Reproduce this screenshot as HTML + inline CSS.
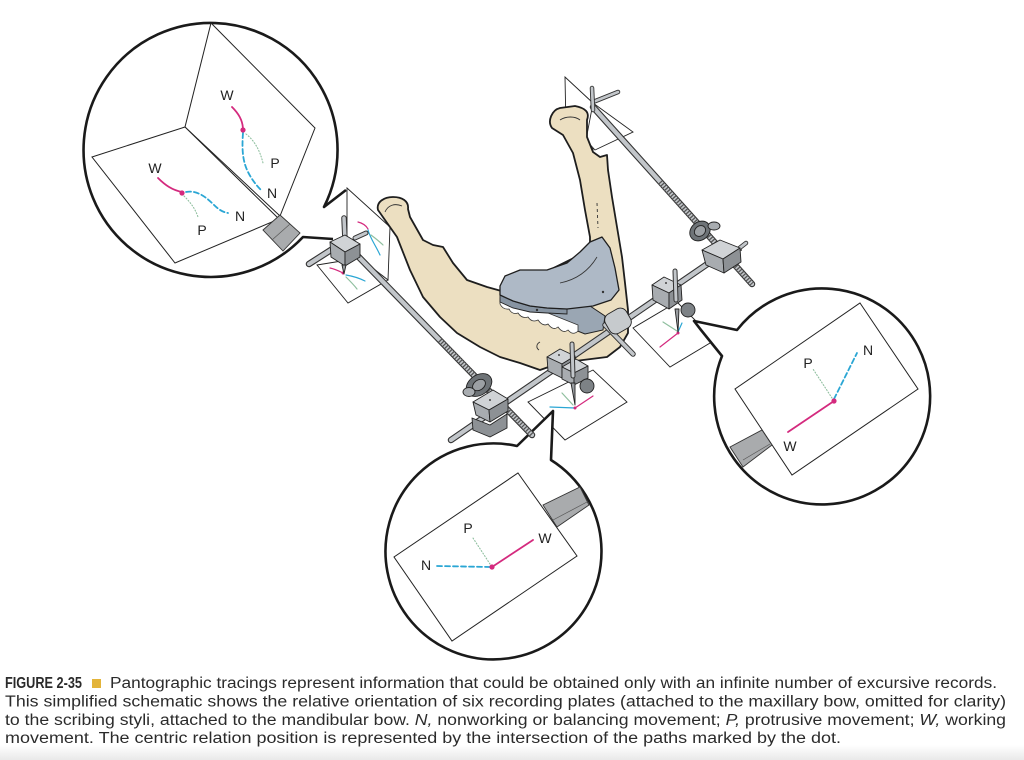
<!DOCTYPE html>
<html><head><meta charset="utf-8"><style>
html,body{margin:0;padding:0;background:#fff;}
svg{display:block;}
</style></head><body>
<svg width="1024" height="760" viewBox="0 0 1024 760" xmlns="http://www.w3.org/2000/svg">
<defs>
<linearGradient id="bg" x1="0" y1="0" x2="0" y2="1">
<stop offset="0" stop-color="#ffffff"/><stop offset="1" stop-color="#e9e9e9"/>
</linearGradient>
</defs>
<rect width="1024" height="760" fill="#fff"/>
<rect x="0" y="745" width="1024" height="15" fill="url(#bg)"/>

<!-- ===== device plates (behind) ===== -->
<g fill="#fff" stroke="#222" stroke-width="0.9">
<polygon points="347,188 390,227 388,280 347,255"/>
<polygon points="317,265 348,303 388,280 360,258"/>
<polygon points="565,77 593,103 593,150 566,128"/>
<polygon points="593,103 633,132 595,150 586,140"/>
<polygon points="633,328 670,367 715,340 677,302"/>
<polygon points="528,402 565,440 627,402 593,370"/>
</g>
<g fill="none" stroke-width="1.2" stroke-linecap="round">
<path d="M358,222 C362,223 366,225 368,229" stroke="#d42a7e"/>
<path d="M368,230 C370,238 376,246 380,255" stroke="#2aa6d4"/>
<path d="M371,235 C375,238 379,241 383,245" stroke="#8fbf9f"/>
<path d="M330,268 C335,269 339,271 343,273" stroke="#d42a7e"/>
<path d="M346,275 C352,276 359,278 365,281" stroke="#2aa6d4"/>
<path d="M346,277 C350,281 354,285 357,289" stroke="#8fbf9f"/>
<path d="M663,322 L677,331" stroke="#8fbf9f"/>
<path d="M682,323 L678,332" stroke="#2aa6d4"/>
<path d="M660,347 L678,333" stroke="#d42a7e"/>
<path d="M550,407 L575,408" stroke="#2aa6d4"/>
<path d="M575,408 L593,396" stroke="#d42a7e"/>
<path d="M562,393 L573,405" stroke="#8fbf9f"/>
</g>
<circle cx="343" cy="273" r="1.5" fill="#d42a7e"/>
<circle cx="678" cy="333" r="1.5" fill="#d42a7e"/>
<circle cx="575" cy="408" r="1.5" fill="#d42a7e"/>

<!-- ===== Bubbles ===== -->
<path d="M346,190 L324,207 A127 127 0 1 0 303,237 L333,239 Z" fill="#fff" stroke="none"/>
<path d="M346,190 L324,207 A127 127 0 1 0 303,237 L333,239" fill="none" stroke="#1a1a1a" stroke-width="2.6" stroke-linejoin="round"/>
<g fill="#fff" stroke="#222" stroke-width="1">
<polygon points="211,23 315,128 280,216 185,127"/>
<polygon points="92,157 185,127 279,219 175,263"/>
</g>
<polygon points="263,230 280,215 300,233 283,251" fill="#a9abad" stroke="#333" stroke-width="0.9"/>
<line x1="272" y1="240" x2="290" y2="224" stroke="#555" stroke-width="0.7"/>
<g fill="none" stroke-width="1.8" stroke-linecap="round">
<path d="M232,107 C238,113 243,120 243,130" stroke="#d42a7e"/>
<path d="M243,133 C242,147 242,160 248,172 C252,180 257,186 261,190" stroke="#2aa6d4" stroke-dasharray="5,3"/>
<path d="M246,134 C255,141 260,151 263,163" stroke="#8fbf9f" stroke-width="1.1" stroke-dasharray="1,2"/>
<path d="M158,178 C165,185 172,190 182,192" stroke="#d42a7e"/>
<path d="M186,192 C196,190 205,196 213,204 C218,209 222,212 228,213" stroke="#2aa6d4" stroke-dasharray="5,3"/>
<path d="M184,196 C190,202 195,208 198,217" stroke="#8fbf9f" stroke-width="1.1" stroke-dasharray="1,2"/>
</g>
<circle cx="243" cy="130" r="2.6" fill="#d42a7e"/>
<circle cx="182" cy="193" r="2.6" fill="#d42a7e"/>
<g font-family="Liberation Sans, Arial, sans-serif" font-size="14" fill="#222" text-anchor="middle">
<text x="227" y="100">W</text>
<text x="275" y="168">P</text>
<text x="272" y="198">N</text>
<text x="155" y="173">W</text>
<text x="240" y="221">N</text>
<text x="202" y="235">P</text>
</g>

<path d="M694,321 L737,330 A108 108 0 1 1 722,356 L701,330 Z" fill="#fff" stroke="#1a1a1a" stroke-width="2.6" stroke-linejoin="round"/>
<polygon points="860,303 918,389 792,475 735,389" fill="#fff" stroke="#222" stroke-width="1"/>
<polygon points="730,447 762,430 772,445 743,467" fill="#a9abad" stroke="#333" stroke-width="0.9"/>
<line x1="743" y1="460" x2="770" y2="444" stroke="#555" stroke-width="0.7"/>
<g fill="none" stroke-width="1.8" stroke-linecap="round">
<line x1="834" y1="401" x2="788" y2="432" stroke="#d42a7e"/>
<line x1="834" y1="399" x2="857" y2="353" stroke="#2aa6d4" stroke-dasharray="5,3"/>
<line x1="832" y1="398" x2="813" y2="369" stroke="#8fbf9f" stroke-width="1.1" stroke-dasharray="1,2"/>
</g>
<circle cx="834" cy="401" r="2.6" fill="#d42a7e"/>
<g font-family="Liberation Sans, Arial, sans-serif" font-size="14" fill="#222" text-anchor="middle">
<text x="808" y="368">P</text>
<text x="868" y="355">N</text>
<text x="790" y="451">W</text>
</g>

<path d="M553,411 L551,460 A108 108 0 1 1 517,446 Z" fill="#fff" stroke="#1a1a1a" stroke-width="2.6" stroke-linejoin="round"/>
<polygon points="518,473 577,556 452,641 394,557" fill="#fff" stroke="#222" stroke-width="1"/>
<polygon points="543,505 580,487 589,505 557,527" fill="#a9abad" stroke="#333" stroke-width="0.9"/>
<line x1="553" y1="520" x2="587" y2="502" stroke="#555" stroke-width="0.7"/>
<g fill="none" stroke-width="1.8" stroke-linecap="round">
<line x1="492" y1="567" x2="533" y2="540" stroke="#d42a7e"/>
<line x1="490" y1="567" x2="437" y2="566" stroke="#2aa6d4" stroke-dasharray="5,3"/>
<line x1="490" y1="564" x2="473" y2="538" stroke="#8fbf9f" stroke-width="1.1" stroke-dasharray="1,2"/>
</g>
<circle cx="492" cy="567" r="2.6" fill="#d42a7e"/>
<g font-family="Liberation Sans, Arial, sans-serif" font-size="14" fill="#222" text-anchor="middle">
<text x="468" y="533">P</text>
<text x="545" y="543">W</text>
<text x="426" y="570">N</text>
</g>

<!-- ===== Mandible ===== -->
<path d="M378,210 C376,202 384,197 393,197 C402,197 409,201 408,209 L410,217 L423,240 L433,245 L443,247 L453,263 L467,280 L487,287 L505,292 L590,250 L590,237 L585,210 L580,180 L573,153 L563,135 L552,128 C547,121 552,110 560,108 L575,106 C585,108 590,112 587,120 L587,137 L593,152 L600,157 L607,155 L608,170 L612,197 L617,227 L622,257 L625,283 L628,310 L628,333 L620,347 L607,357 L583,360 L560,363 L540,370 L520,363 L500,357 L480,347 L457,333 L440,317 L423,297 L410,270 L397,237 Z" fill="#ecdfc1" stroke="#1e1e1e" stroke-width="1.8" stroke-linejoin="round"/>
<g fill="none" stroke="#333" stroke-width="0.9">
<path d="M385,212 C388,205 395,203 402,206"/>
<path d="M597,203 L598,228" stroke-dasharray="3,3"/>
<path d="M540,342 C536,344 536,348 539,350"/>
<path d="M560,120 C566,116 575,116 580,120"/>
</g>

<!-- ===== Denture ===== -->
<polygon points="545,308 590,306 605,316 603,330 585,334 565,326 548,318" fill="#9aa6b3" stroke="#222" stroke-width="1"/>
<path d="M500,298 L548,313 L578,325 L578,331 Q573,336 568,330 Q563,334 558,327 Q553,331 548,324 Q543,327 538,320 Q532,323 528,317 Q522,319 518,313 Q512,315 509,309 Q503,310 500,304 Z" fill="#fff" stroke="#333" stroke-width="0.8"/>
<polygon points="500,295 513,301 530,306 547,308 567,309 567,314 547,313 530,312 513,308 500,302" fill="#8794a2" stroke="#222" stroke-width="0.9"/>
<polygon points="500,286 505,276 520,270 547,270 567,263 580,252 590,242 602,237 610,248 615,268 619,290 611,300 593,306 567,309 547,308 530,306 513,301 500,295" fill="#aeb9c6" stroke="#1e1e1e" stroke-width="1.3" stroke-linejoin="round"/>
<path d="M560,283 C575,280 588,272 597,257" fill="none" stroke="#333" stroke-width="0.8"/>
<circle cx="603" cy="292" r="1.2" fill="#333"/>
<circle cx="537" cy="310" r="1.2" fill="#333"/>

<!-- ===== Rods ===== -->
<g stroke-linecap="round" fill="none">
<line x1="350" y1="248" x2="532" y2="435" stroke="#333" stroke-width="6.5"/>
<line x1="350" y1="248" x2="532" y2="435" stroke="#c2c6ca" stroke-width="4.3"/>
<line x1="440" y1="340" x2="532" y2="435" stroke="#555" stroke-width="5.5" stroke-dasharray="1.3,1.6" stroke-linecap="butt"/>
<line x1="593" y1="107" x2="752" y2="284" stroke="#333" stroke-width="6.5"/>
<line x1="593" y1="107" x2="752" y2="284" stroke="#c2c6ca" stroke-width="4.3"/>
<line x1="660" y1="182" x2="752" y2="284" stroke="#555" stroke-width="5.5" stroke-dasharray="1.3,1.6" stroke-linecap="butt"/>
<line x1="451" y1="440" x2="722" y2="254" stroke="#333" stroke-width="6.5"/>
<line x1="451" y1="440" x2="722" y2="254" stroke="#c2c6ca" stroke-width="4.3"/>
<line x1="605" y1="325" x2="633" y2="354" stroke="#333" stroke-width="5.5"/>
<line x1="605" y1="325" x2="633" y2="354" stroke="#c2c6ca" stroke-width="3.5"/>
<line x1="309" y1="264" x2="334" y2="248" stroke="#333" stroke-width="6.5"/>
<line x1="309" y1="264" x2="334" y2="248" stroke="#c2c6ca" stroke-width="4.3"/>
<line x1="355" y1="238" x2="366" y2="233" stroke="#333" stroke-width="5"/>
<line x1="355" y1="238" x2="366" y2="233" stroke="#c2c6ca" stroke-width="3"/>
<line x1="593" y1="102" x2="618" y2="92" stroke="#333" stroke-width="4.5"/>
<line x1="593" y1="102" x2="618" y2="92" stroke="#c2c6ca" stroke-width="2.7"/>
<line x1="592" y1="88" x2="593" y2="110" stroke="#333" stroke-width="4.5"/>
<line x1="592" y1="88" x2="593" y2="110" stroke="#c2c6ca" stroke-width="2.7"/>
<line x1="737" y1="250" x2="746" y2="243" stroke="#333" stroke-width="4.5"/>
<line x1="737" y1="250" x2="746" y2="243" stroke="#c2c6ca" stroke-width="2.7"/>
</g>

<!-- ===== Clamps ===== -->
<g stroke="#222" stroke-width="0.9" stroke-linejoin="round">
<line x1="344" y1="218" x2="345" y2="240" stroke="#333" stroke-width="5.5" stroke-linecap="round"/>
<line x1="344" y1="218" x2="345" y2="240" stroke="#c2c6ca" stroke-width="3.5" stroke-linecap="round"/>
<polygon points="330,242 345,235 360,244 345,252" fill="#d0d3d6"/>
<polygon points="330,242 345,252 345,266 331,257" fill="#a8acb0"/>
<polygon points="345,252 360,244 360,257 345,266" fill="#8d9195"/>
<polygon points="342,265 346,265 344,274" fill="#9a9ea2"/>

<ellipse cx="700" cy="231" rx="11" ry="9" fill="#6e7377" transform="rotate(-40 700 231)"/>
<ellipse cx="700" cy="231" rx="6" ry="5" fill="#9ca0a4" transform="rotate(-40 700 231)"/>
<ellipse cx="714" cy="226" rx="6" ry="4" fill="#a8acb0"/>
<polygon points="702,250 720,240 740,248 723,259" fill="#d0d3d6"/>
<polygon points="702,250 723,259 724,273 706,265" fill="#a8acb0"/>
<polygon points="723,259 740,248 741,262 724,273" fill="#8d9195"/>

<polygon points="652,285 664,277 681,285 669,293" fill="#d0d3d6"/>
<polygon points="652,285 669,293 669,309 653,300" fill="#a8acb0"/>
<polygon points="669,293 681,285 682,300 669,309" fill="#8d9195"/>
<line x1="675" y1="271" x2="676" y2="300" stroke="#333" stroke-width="5" stroke-linecap="round"/>
<line x1="675" y1="271" x2="676" y2="300" stroke="#c2c6ca" stroke-width="3" stroke-linecap="round"/>
<circle cx="688" cy="310" r="7" fill="#7d8286"/>
<polygon points="675,309 679,309 678,332" fill="#9a9ea2"/>

<polygon points="547,357 560,349 575,356 562,364" fill="#d0d3d6"/>
<polygon points="547,357 562,364 562,378 548,371" fill="#a8acb0"/>
<polygon points="562,364 575,356 576,370 562,378" fill="#8d9195"/>
<polygon points="562,367 576,359 588,366 574,373" fill="#d0d3d6"/>
<polygon points="562,367 574,373 574,385 562,379" fill="#a8acb0"/>
<polygon points="574,373 588,366 588,378 574,385" fill="#8d9195"/>
<line x1="572" y1="344" x2="573" y2="376" stroke="#333" stroke-width="5" stroke-linecap="round"/>
<line x1="572" y1="344" x2="573" y2="376" stroke="#c2c6ca" stroke-width="3" stroke-linecap="round"/>
<circle cx="587" cy="386" r="7" fill="#7d8286"/>
<polygon points="571,383 575,383 575,405" fill="#9a9ea2"/>

<ellipse cx="479" cy="385" rx="14" ry="10" fill="#6e7377" transform="rotate(-35 479 385)"/>
<ellipse cx="479" cy="385" rx="7" ry="5" fill="#9ca0a4" transform="rotate(-35 479 385)"/>
<ellipse cx="469" cy="392" rx="6" ry="4.5" fill="#a8acb0"/>
<polygon points="473,402 493,390 508,399 489,410" fill="#d0d3d6"/>
<polygon points="473,402 489,410 490,422 476,415" fill="#a8acb0"/>
<polygon points="489,410 508,399 508,411 490,422" fill="#8d9195"/>
<polygon points="472,418 490,425 507,414 507,428 490,437 473,430" fill="#8d9195"/>

<rect x="606" y="310" width="24" height="22" rx="7" fill="#c6cacd" transform="rotate(-30 618 321)"/>
</g>
<g fill="#444">
<circle cx="741" cy="250" r="1"/><circle cx="666" cy="283" r="1"/><circle cx="559" cy="355" r="1"/><circle cx="490" cy="400" r="1"/>
</g>

<!-- ===== Caption ===== -->
<g font-family="Liberation Sans, Arial, sans-serif" font-size="15.5" fill="#2b2b2b">
<text x="5" y="688" font-weight="bold" textLength="77" lengthAdjust="spacingAndGlyphs">FIGURE 2-35</text>
<rect x="92" y="679" width="9" height="9" fill="#e3b43a"/>
<text x="110" y="688" textLength="887" lengthAdjust="spacingAndGlyphs">Pantographic tracings represent information that could be obtained only with an infinite number of excursive records.</text>
<text x="5" y="706.5" textLength="1001" lengthAdjust="spacingAndGlyphs">This simplified schematic shows the relative orientation of six recording plates (attached to the maxillary bow, omitted for clarity)</text>
<text x="5" y="725" textLength="1001" lengthAdjust="spacingAndGlyphs">to the scribing styli, attached to the mandibular bow. <tspan font-style="italic">N,</tspan> nonworking or balancing movement; <tspan font-style="italic">P,</tspan> protrusive movement; <tspan font-style="italic">W,</tspan> working</text>
<text x="5" y="743" textLength="836" lengthAdjust="spacingAndGlyphs">movement. The centric relation position is represented by the intersection of the paths marked by the dot.</text>
</g>
</svg>
</body></html>
